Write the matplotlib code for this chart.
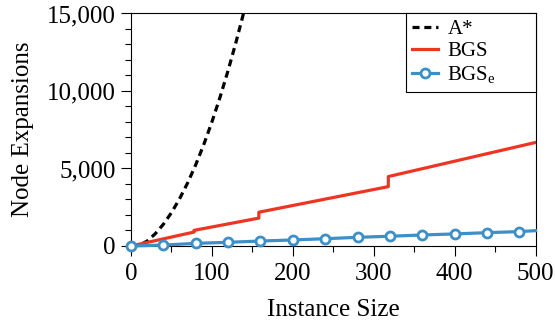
import matplotlib
matplotlib.use("Agg")
import matplotlib.pyplot as plt
from matplotlib.ticker import MultipleLocator, FuncFormatter

# A*
astar_x = [0, 10, 20, 30, 40, 50, 60, 70, 80, 90, 100, 110, 120, 130, 140, 150]
astar_y = [0, 30, 320, 790, 1400, 2150, 3040, 4070, 5240, 6550, 8000, 9590, 11320, 13190, 15200, 17350]

# BGS (piecewise linear with jumps)
bgs_x = [0, 78, 78, 158, 158, 318, 318, 500]
bgs_y = [0, 900, 1010, 1800, 2180, 3830, 4480, 6680]

# BGS_e
bgse_x = [0, 40, 80, 120, 160, 200, 240, 280, 320, 360, 400, 440, 480, 500]
bgse_y = [0, 60, 170, 240, 320, 390, 470, 560, 630, 710, 780, 860, 930, 990]

labels = ["A*", "BGS", r"BGS$_\mathregular{e}$"]

plt.rcParams['font.family'] = ['Liberation Serif', 'DejaVu Serif']
plt.rcParams['mathtext.fontset'] = 'custom'
plt.rcParams['mathtext.rm'] = 'Liberation Serif'

fig = plt.figure(figsize=(5.55, 3.26), dpi=100)
ax = fig.add_axes([0.236, 0.2454, 0.729, 0.7132])

ax.plot(astar_x, astar_y, color='black', lw=2.3, ls=(0, (2.2, 1.5)), label=labels[0], zorder=3)
ax.plot(bgs_x, bgs_y, color='#ee3524', lw=2.3, label=labels[1], zorder=3)
ax.plot(bgse_x, bgse_y, color='#3d8fc8', lw=2.3, marker='o', ms=6.5, mfc='white',
        mec='#3d8fc8', mew=2.0, markevery=list(range(13)), label=labels[2], zorder=4, clip_on=False)

ax.set_xlim(0, 500)
ax.set_ylim(0, 15000)
ax.xaxis.set_major_locator(MultipleLocator(100))
ax.xaxis.set_minor_locator(MultipleLocator(50))
ax.yaxis.set_major_locator(MultipleLocator(5000))
ax.yaxis.set_minor_locator(MultipleLocator(1000))
ax.yaxis.set_major_formatter(FuncFormatter(lambda v, p: f"{int(v):,}"))

ax.tick_params(which='major', direction='out', length=7, width=0.8, labelsize=18)
ax.tick_params(axis='y', which='major', pad=4)
ax.tick_params(axis='x', which='major', pad=5)
ax.tick_params(which='minor', direction='out', length=4, width=0.8)
ax.tick_params(top=False, right=False)
for s in ax.spines.values():
    s.set_linewidth(0.8)

ax.set_xlabel("Instance Size", fontsize=18, labelpad=10)
ax.set_ylabel("Node Expansions", fontsize=18, labelpad=9)

leg = ax.legend(loc='upper left', bbox_to_anchor=(0.679, 1.0, 0.321, 0.0), mode='expand',
                borderaxespad=0, fancybox=False, edgecolor='black',
                fontsize=15, handlelength=1.25, handletextpad=0.45, borderpad=0.3,
                labelspacing=0.12, framealpha=1)
leg.get_frame().set_linewidth(0.8)

fig.savefig("out.png", dpi=100)
